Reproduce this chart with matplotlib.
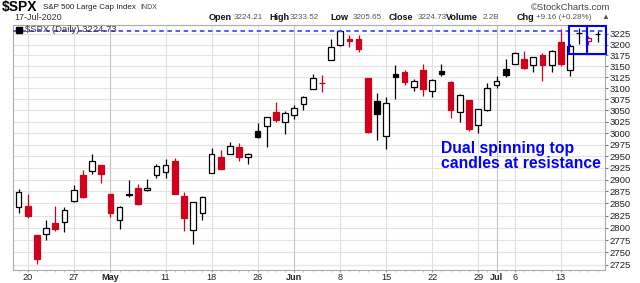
import numpy as np
import matplotlib.pyplot as plt
from matplotlib.patches import Rectangle

plt.rcParams['font.family'] = ['Liberation Sans', 'DejaVu Sans']

# Daily S&P 500 candles, 17-Apr-2020 to 17-Jul-2020
dates = ['04-17', '04-20', '04-21', '04-22', '04-23', '04-24',
         '04-27', '04-28', '04-29', '04-30', '05-01',
         '05-04', '05-05', '05-06', '05-07', '05-08',
         '05-11', '05-12', '05-13', '05-14', '05-15',
         '05-18', '05-19', '05-20', '05-21', '05-22',
         '05-26', '05-27', '05-28', '05-29',
         '06-01', '06-02', '06-03', '06-04', '06-05',
         '06-08', '06-09', '06-10', '06-11', '06-12',
         '06-15', '06-16', '06-17', '06-18', '06-19',
         '06-22', '06-23', '06-24', '06-25', '06-26',
         '06-29', '06-30', '07-01', '07-02',
         '07-06', '07-07', '07-08', '07-09', '07-10',
         '07-13', '07-14', '07-15', '07-16', '07-17']

opens = [2842.4, 2845.6, 2784.8, 2787.9, 2810.4, 2812.6,
         2854.7, 2910.0, 2918.5, 2930.9, 2869.1,
         2815.0, 2868.9, 2883.1, 2878.3, 2908.8,
         2915.5, 2939.5, 2865.9, 2794.5, 2830.0,
         2913.9, 2948.6, 2953.6, 2970.0, 2948.1,
         3004.1, 3015.7, 3046.6, 3025.2,
         3038.8, 3064.8, 3098.9, 3111.6, 3163.8,
         3199.9, 3213.3, 3213.4, 3123.5, 3071.0,
         2993.8, 3131.0, 3136.1, 3101.6, 3140.3,
         3094.4, 3138.7, 3114.4, 3046.6, 3073.2,
         3018.6, 3050.2, 3105.9, 3143.6,
         3155.3, 3166.4, 3153.1, 3176.2, 3152.5,
         3205.1, 3141.1, 3226.0, 3208.4, 3224.2]

highs = [2879.2, 2869.0, 2785.5, 2815.1, 2844.9, 2842.7,
         2887.7, 2921.2, 2954.9, 2930.9, 2869.1,
         2844.2, 2898.2, 2891.1, 2901.9, 2932.2,
         2944.3, 2945.8, 2874.1, 2852.8, 2865.0,
         2968.1, 2964.2, 2980.3, 2978.5, 2956.8,
         3021.7, 3036.3, 3068.7, 3049.2,
         3062.2, 3081.1, 3130.9, 3128.9, 3211.7,
         3233.1, 3222.7, 3223.3, 3123.5, 3088.4,
         3079.8, 3153.5, 3141.2, 3120.0, 3155.5,
         3120.9, 3154.9, 3115.0, 3086.3, 3073.7,
         3053.9, 3111.5, 3128.4, 3165.8,
         3182.6, 3184.2, 3171.8, 3179.8, 3186.8,
         3235.3, 3201.0, 3238.3, 3220.4, 3233.5]

lows = [2830.9, 2820.4, 2727.1, 2776.0, 2794.3, 2791.8,
        2852.9, 2860.7, 2912.2, 2892.5, 2821.6,
        2797.9, 2863.6, 2847.7, 2876.5, 2902.9,
        2903.4, 2869.6, 2793.2, 2766.6, 2816.8,
        2913.9, 2922.4, 2953.6, 2938.6, 2933.6,
        2988.2, 2969.8, 3023.4, 2998.6,
        3031.5, 3051.6, 3098.9, 3090.4, 3163.8,
        3196.0, 3193.1, 3181.5, 2999.5, 2984.5,
        2965.7, 3076.1, 3108.0, 3093.5, 3083.1,
        3079.4, 3127.1, 3032.1, 3024.0, 3004.6,
        2999.7, 3047.8, 3101.2, 3124.5,
        3155.3, 3142.9, 3136.5, 3115.7, 3136.2,
        3149.4, 3127.7, 3200.8, 3198.6, 3205.7]

closes = [2874.6, 2823.2, 2736.6, 2799.3, 2797.8, 2836.7,
          2878.5, 2863.4, 2939.5, 2912.4, 2830.7,
          2842.7, 2868.4, 2848.4, 2881.2, 2929.8,
          2930.3, 2870.1, 2820.0, 2852.5, 2863.7,
          2953.9, 2922.9, 2971.6, 2948.5, 2955.5,
          2991.8, 3036.1, 3029.7, 3044.3,
          3055.7, 3080.8, 3122.9, 3112.4, 3193.9,
          3232.4, 3207.2, 3190.1, 3002.1, 3041.3,
          3066.6, 3124.7, 3113.5, 3115.3, 3097.7,
          3117.9, 3131.3, 3050.3, 3083.8, 3009.1,
          3053.2, 3100.3, 3115.9, 3130.0,
          3179.7, 3145.3, 3169.9, 3152.1, 3185.0,
          3155.2, 3197.5, 3226.6, 3215.6, 3224.7]

prev_close_first = 2799.6

tick_dates = ['04-20', '04-27', '05-01', '05-11', '05-18', '05-26', '06-01',
              '06-08', '06-15', '06-22', '06-29', '07-01', '07-06', '07-13']
tick_labels = ['20', '27', 'May', '11', '18', '26', 'Jun',
               '8', '15', '22', '29', 'Jul', '6', '13']
month_labels = ['May', 'Jun', 'Jul']

y_ticks = list(range(2725, 3226, 25))
resistance = 3232

red = '#d0021b'
blue = '#0000ff'

fig = plt.figure(figsize=(6.4, 2.83), dpi=100)
ax = fig.add_axes([13 / 640, 13.5 / 283, 592 / 640, 245 / 283])
ax.set_yscale('log')

x = np.arange(len(dates))
o = np.array(opens)
h = np.array(highs)
l = np.array(lows)
c = np.array(closes)
prev = np.concatenate([[prev_close_first], c[:-1]])

# red when close is below the previous close, filled when close < open
edge = [red if c[i] < prev[i] else 'black' for i in range(len(c))]
fill = [edge[i] if c[i] < o[i] else 'white' for i in range(len(c))]

ax.vlines(x, l, h, colors=edge, linewidth=0.9, zorder=3)
body_lo = np.minimum(o, c)
body_h = np.maximum(np.abs(c - o), 0.6)
ax.bar(x, body_h, bottom=body_lo, width=0.62, color=fill,
       edgecolor=edge, linewidth=0.9, zorder=4)

# resistance line
ax.axhline(resistance, color='#4a4aff', linestyle=(0, (2.5, 2)),
           linewidth=1.3, zorder=5)

# boxes around the two spinning tops
for x0, x1 in [(59.9, 61.85), (61.85, 63.88)]:
    ax.add_patch(Rectangle((x0, 3178), x1 - x0, 3244.6 - 3178, fill=False,
                           edgecolor=blue, linewidth=1.5, zorder=6,
                           clip_on=False))

ax.text(0.7225, 0.525, 'Dual spinning top\ncandles at resistance',
        transform=ax.transAxes, ha='left', va='top', color=blue,
        fontsize=11.3, fontweight='bold', linespacing=1.05, zorder=7)

# axes styling
ax.set_xlim(-0.6, 63.8)
ax.set_ylim(2716, 3247)
ax.yaxis.tick_right()
ax.set_yticks(y_ticks)
ax.set_yticklabels([str(v) for v in y_ticks])
ax.yaxis.set_minor_locator(plt.NullLocator())
ax.tick_params(axis='y', which='major', labelsize=6.8, length=2,
               colors='#777777', labelcolor='#222222', pad=1)

tick_pos = [dates.index(d) for d in tick_dates]
ax.set_xticks(tick_pos)
ax.set_xticklabels(tick_labels)
for lab in ax.get_xticklabels():
    if lab.get_text() in month_labels:
        lab.set_fontweight('bold')
ax.set_xticks(x, minor=True)
ax.tick_params(axis='x', which='major', labelsize=6.6, length=1.5,
               colors='#999999', labelcolor='#222222', pad=0.8)
ax.tick_params(axis='x', which='minor', length=1.5, colors='#bbbbbb')

for yv in y_ticks:
    ax.axhline(yv, color='#e4e4e4', linewidth=0.8, zorder=0)
for lab, p in zip(tick_labels, tick_pos):
    col = '#c4c4c4' if lab in month_labels else '#e0e0e0'
    ax.axvline(p, color=col, linewidth=0.8, zorder=0)

for s in ax.spines.values():
    s.set_color('#aaaaaa')
    s.set_linewidth(0.8)

# legend line inside the chart
ax.plot([0.01], [0.978], marker='s', markersize=4, color='black',
        transform=ax.transAxes, clip_on=False, zorder=8)
ax.text(0.02, 0.98, '$SPX (Daily) 3224.73', transform=ax.transAxes,
        fontsize=6.8, color='#333333', va='center', ha='left', zorder=8)

# header
def px(xp, yp):
    return xp / 640, 1 - yp / 283

fig.text(*px(2, 7.5), '$SPX', fontsize=10, fontweight='bold', va='center')
fig.text(*px(43, 7.5), 'S&P 500 Large Cap Index', fontsize=5.8,
         color='#222222', va='center')
fig.text(*px(140, 7.5), 'INDX', fontsize=5, color='#444444', va='center')
fig.text(*px(14, 17.5), '17-Jul-2020', fontsize=6.5, color='#333333',
         va='center')
fig.text(*px(531, 7), '\u00a9StockCharts.com', fontsize=6.8,
         color='#444444', va='center')

header = [(209, 'Open', True), (234, '3224.21', False),
          (269, 'High', True), (290, '3233.52', False),
          (330, 'Low', True), (353, '3205.65', False),
          (389, 'Close', True), (418, '3224.73', False),
          (446, 'Volume', True), (483, '2.2B', False),
          (517, 'Chg', True), (536, '+9.16 (+0.28%)', False),
          (601, '\u25b2', False)]
for xp, txt, bold in header:
    fig.text(*px(xp, 17.5), txt, fontsize=6.5 if bold else 5.8,
             fontweight='bold' if bold else 'normal',
             color='#111111' if bold else '#555555', va='center',
             family=['Liberation Sans', 'DejaVu Sans'])

fig.savefig('out.png', dpi=100, facecolor='white')
